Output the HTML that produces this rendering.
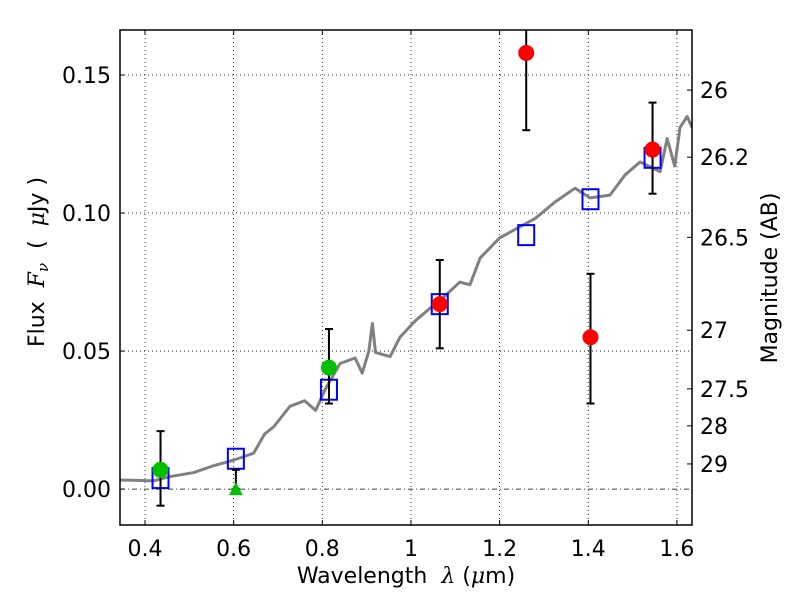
<!DOCTYPE html>
<html><head><meta charset="utf-8"><style>
body{margin:0;background:#fff;width:800px;height:600px;overflow:hidden}
svg text{font-family:"DejaVu Sans","Liberation Sans",sans-serif;fill:#000}
</style></head><body>
<svg id="chart" width="800" height="600" xmlns="http://www.w3.org/2000/svg">
<defs><clipPath id="clip"><rect x="120" y="30" width="572" height="495"/></clipPath></defs>
<g id="grid"></g>
<g id="spec" clip-path="url(#clip)"></g>
<g id="marks" clip-path="url(#clip)"></g>
<g id="axes"></g>
</svg>
<script>
// data
const specWave=[0.344,0.42,0.455,0.51,0.555,0.60,0.645,0.67,0.69,0.727,0.76,0.785,0.806,0.84,0.874,0.89,0.905,0.913,0.92,0.953,0.975,1.01,1.043,1.077,1.11,1.133,1.156,1.2,1.223,1.28,1.325,1.37,1.404,1.449,1.483,1.517,1.562,1.578,1.595,1.607,1.623,1.634];
const specFlux=[0.0033,0.003,0.0045,0.006,0.0085,0.0105,0.013,0.020,0.0225,0.030,0.032,0.0285,0.036,0.0455,0.0475,0.042,0.050,0.060,0.0495,0.048,0.055,0.061,0.0655,0.070,0.075,0.074,0.0837,0.091,0.093,0.098,0.104,0.109,0.1055,0.1065,0.1138,0.1185,0.115,0.127,0.117,0.131,0.135,0.131];
const redWave=[1.065,1.26,1.405,1.545];
const redFlux=[0.067,0.158,0.055,0.123];
const redLo=[0.051,0.130,0.031,0.107];
const redHi=[0.083,0.172,0.078,0.140];
const greenWave=[0.435,0.815];
const greenFlux=[0.007,0.044];
const greenLo=[-0.006,0.031];
const greenHi=[0.021,0.058];
const triWave=[0.605];
const triFlux=[0.0];
const triHi=[0.007];
const sqWave=[0.435,0.605,0.815,1.065,1.26,1.405,1.545];
const sqFlux=[0.004,0.011,0.036,0.067,0.092,0.105,0.120];
const xTicks=[0.4,0.6,0.8,1.0,1.2,1.4,1.6];
const xTickLabels=["0.4","0.6","0.8","1","1.2","1.4","1.6"];
const yTicks=[0,0.05,0.10,0.15];
const yTickLabels=["0.00","0.05","0.10","0.15"];
const magTicks=[26,26.2,26.5,27,27.5,28,29];
const magLabels=["26","26.2","26.5","27","27.5","28","29"];

const L=120,R=692,T=30,B=525;
const X0=0.3436,X1=1.634,Y0=-0.0130,Y1=0.1663;
const sx=v=>L+(v-X0)/(X1-X0)*(R-L);
const sy=v=>B-(v-Y0)/(Y1-Y0)*(B-T);
const NS="http://www.w3.org/2000/svg";
function mk(tag,attrs,parent){const e=document.createElementNS(NS,tag);for(const k in attrs)e.setAttribute(k,attrs[k]);parent.appendChild(e);return e;}
const grid=document.getElementById('grid'),spec=document.getElementById('spec'),marks=document.getElementById('marks'),axes=document.getElementById('axes');

xTicks.forEach(t=>{const e=mk('line',{x1:sx(t),x2:sx(t),y1:T,y2:B,stroke:'#000','stroke-width':0.8,'stroke-dasharray':'1,3'},grid);

});
yTicks.forEach(t=>{if(t===0)return;const e=mk('line',{x1:L,x2:R,y1:sy(t),y2:sy(t),stroke:'#000','stroke-width':0.8,'stroke-dasharray':'1,3'},grid);

});
const zl=mk('line',{x1:L,x2:R,y1:sy(0),y2:sy(0),stroke:'#000','stroke-width':0.8,'stroke-dasharray':'5,3,1,3'},grid);



const sp=mk('polyline',{points:specWave.map((w,i)=>sx(w)+','+sy(specFlux[i])).join(' '),fill:'none',stroke:'#808080','stroke-width':3,'stroke-linejoin':'round'},spec);



function err(x,lo,hi){const g=mk('g',{stroke:'#000','stroke-width':2},marks);


mk('line',{x1:sx(x),x2:sx(x),y1:sy(lo),y2:sy(hi)},g);
mk('line',{x1:sx(x)-4,x2:sx(x)+4,y1:sy(lo),y2:sy(lo)},g);
mk('line',{x1:sx(x)-4,x2:sx(x)+4,y1:sy(hi),y2:sy(hi)},g);}
sqWave.forEach((w,i)=>{const e=mk('rect',{x:sx(w)-8,y:sy(sqFlux[i])-10,width:16,height:20,fill:'none',stroke:'#0000ff','stroke-width':2},marks);

});
greenWave.forEach((w,i)=>{err(w,greenLo[i],greenHi[i]);const c=mk('circle',{cx:sx(w),cy:sy(greenFlux[i]),r:8,fill:'#00c000'},marks);

});
triWave.forEach((w,i)=>{err(w,triFlux[i],triHi[i]);const x=sx(w),y=sy(triFlux[i]);const p=mk('polygon',{points:`${x},${y-7} ${x-7},${y+6} ${x+7},${y+6}`,fill:'#00c000'},marks);

});
redWave.forEach((w,i)=>{err(w,redLo[i],redHi[i]);const c=mk('circle',{cx:sx(w),cy:sy(redFlux[i]),r:8,fill:'#ff0000'},marks);

});

const fr=mk('rect',{x:L,y:T,width:R-L,height:B-T,fill:'none',stroke:'#000','stroke-width':1.5},axes);


xTicks.forEach((t,i)=>{mk('line',{x1:sx(t),x2:sx(t),y1:B,y2:B-5,stroke:'#000'},axes);mk('line',{x1:sx(t),x2:sx(t),y1:T,y2:T+5,stroke:'#000'},axes);
const tx=mk('text',{x:sx(t),y:B+31,'text-anchor':'middle','font-size':22},axes);tx.textContent=xTickLabels[i];

});
yTicks.forEach((t,i)=>{mk('line',{x1:L,x2:L+5,y1:sy(t),y2:sy(t),stroke:'#000'},axes);
const tx=mk('text',{x:L-9,y:sy(t)+8,'text-anchor':'end','font-size':22},axes);tx.textContent=yTickLabels[i];

});
magTicks.forEach((m,i)=>{const y=sy(Math.pow(10,(23.9-m)/2.5));mk('line',{x1:R,x2:R-5,y1:y,y2:y,stroke:'#000'},axes);
const tx=mk('text',{x:R+8,y:y+8,'font-size':22},axes);tx.textContent=magLabels[i];

});
</script>
<svg style="position:absolute;left:0;top:0" width="800" height="600" xmlns="http://www.w3.org/2000/svg">
<text x="406" y="583" text-anchor="middle" font-size="22" xml:space="preserve">Wavelength  <tspan font-family="DejaVu Serif" font-style="italic">λ</tspan> (<tspan font-family="DejaVu Serif" font-style="italic">μ</tspan>m)</text>
<text transform="translate(44,262) rotate(-90)" text-anchor="middle" font-size="22" xml:space="preserve">Flux  <tspan font-family="DejaVu Serif" font-style="italic">F<tspan font-size="15" dy="4">ν</tspan></tspan><tspan dy="-4">  (  </tspan><tspan font-family="DejaVu Serif" font-style="italic">μ</tspan>Jy )</text>
<text transform="translate(777,278) rotate(-90)" text-anchor="middle" font-size="22">Magnitude (AB)</text>
</svg>
</body></html>
